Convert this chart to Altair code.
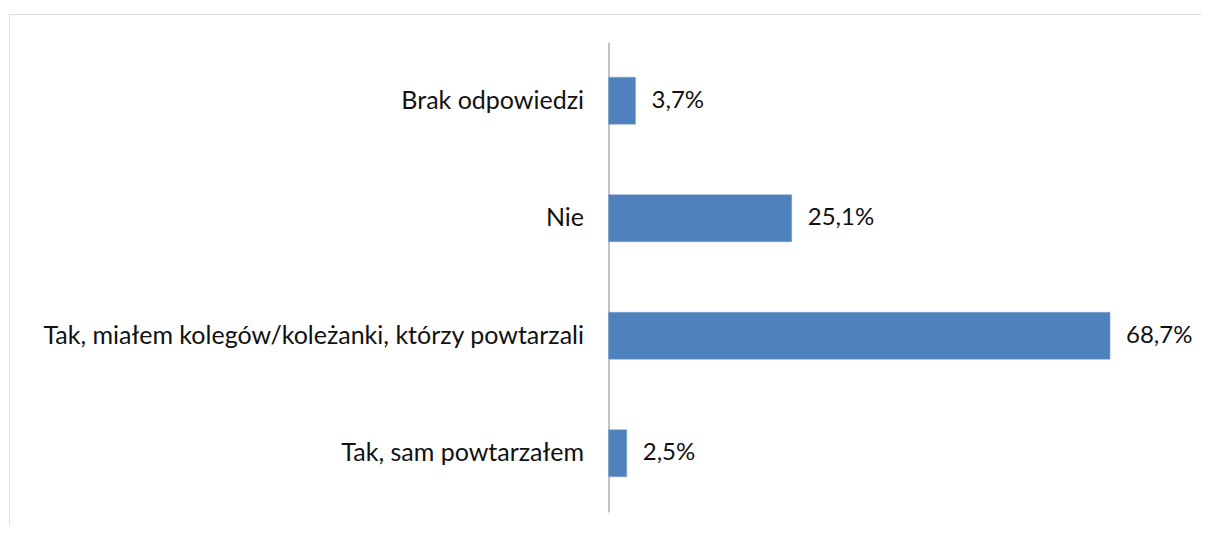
import altair as alt
import pandas as pd

categories = [
    "Brak odpowiedzi",
    "Nie",
    "Tak, miałem kolegów/koleżanki, którzy powtarzali",
    "Tak, sam powtarzałem",
]
values = [3.7, 25.1, 68.7, 2.5]
value_labels = [f"{v:.1f}".replace(".", ",") + "%" for v in values]

df = pd.DataFrame({"kategoria": categories, "wartosc": values, "etykieta": value_labels})

# page is 1209 x 533 with 8px body margins -> svg must stay within 1193 x 517
W = 1192
H = 511
px_per_pct = 7.30
zero_px = 599.5
x_min = -zero_px / px_per_pct
x_max = (W - zero_px) / px_per_pct

FONT = "Lato"

x_scale = alt.Scale(domain=[x_min, x_max], nice=False, zero=False)

y_enc = alt.Y(
    "kategoria:N",
    sort=categories,
    scale=alt.Scale(range=[28, 498], paddingInner=0.6, paddingOuter=0.3),
    axis=alt.Axis(
        title=None,
        offset=-zero_px,
        ticks=False,
        domain=True,
        domainColor="#868686",
        domainWidth=1,
        labelPadding=25,
        labelFont=FONT,
        labelFontSize=25,
        labelColor="#111111",
        labelLimit=800,
        grid=False,
    ),
)

bars = alt.Chart(df).mark_bar(color="#4F81BD", stroke="#7FA3D0", strokeWidth=0.5).encode(
    x=alt.X("wartosc:Q", scale=x_scale, axis=None),
    x2=alt.datum(0),
    y=y_enc,
)

text = alt.Chart(df).mark_text(
    align="left", baseline="middle", dx=16, font=FONT, fontSize=24, color="#111111"
).encode(
    x=alt.X("wartosc:Q", scale=x_scale, axis=None),
    y=alt.Y("kategoria:N", sort=categories),
    text="etykieta:N",
)

chart = (
    alt.layer(bars, text)
    .properties(
        width=W,
        height=H,
        autosize=alt.AutoSizeParams(type="none"),
        padding={"left": 1, "top": 6, "right": 0, "bottom": 0},
    )
    # frame: only top and left sides of the view rectangle are drawn
    .configure_view(
        stroke="#868686",
        strokeWidth=2,
        strokeDash=[W, W + H, H + 20, 10],
    )
    .configure(background="white")
)

chart.save("out.html", embed_options={"renderer": "svg", "actions": False})
